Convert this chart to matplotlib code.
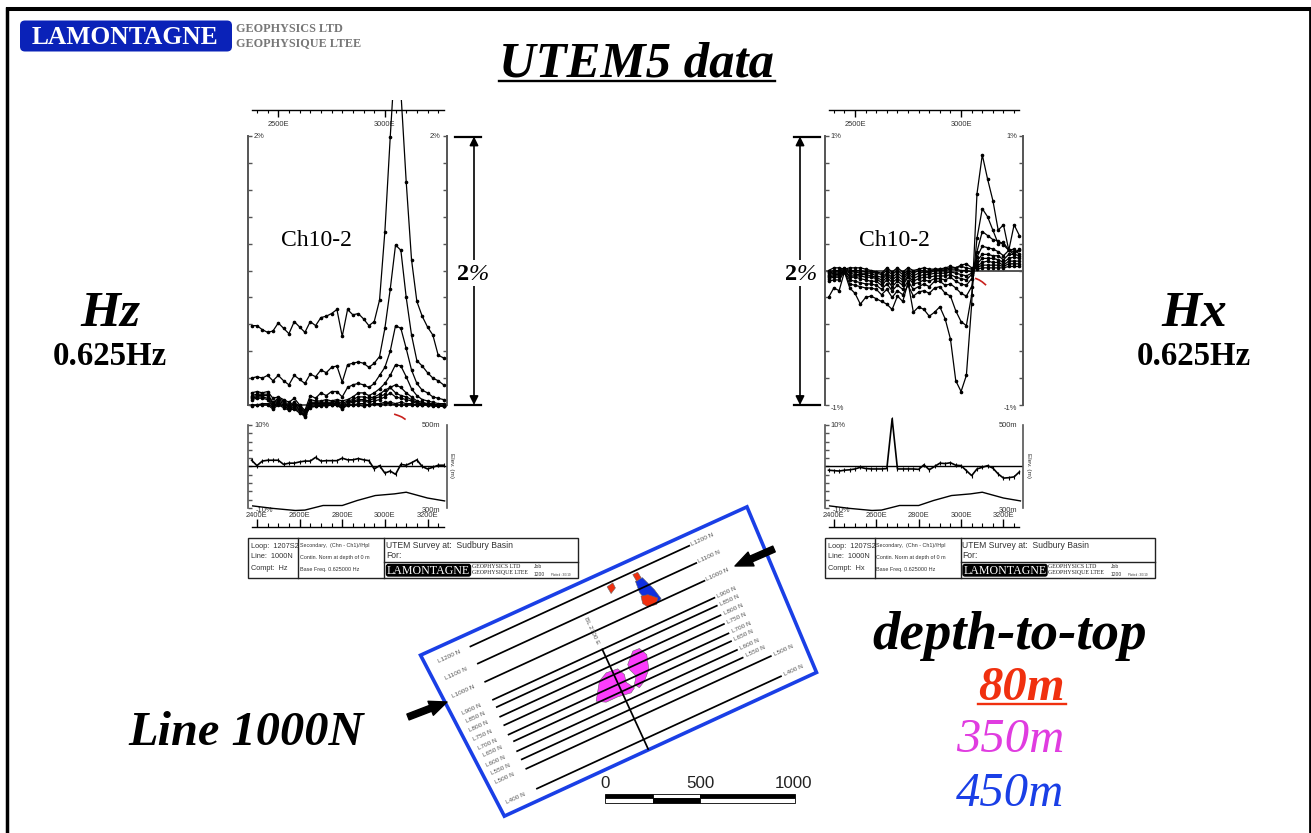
import numpy as np
import matplotlib
matplotlib.use('Agg')
import matplotlib.pyplot as plt
from matplotlib.patches import FancyBboxPatch, Polygon, Rectangle
from matplotlib.ticker import MultipleLocator

W, H = 1311, 833
SANS = 'Liberation Sans'
SERIF = 'Liberation Serif'

# stations along the line (m east)
stations = list(range(2375, 3300, 25))

# Hz, Ch10 down to Ch2 (%)
hz_channels = [
    [.59, .59, .56, .54, .55, .61, .57, .53, .62, .58, .54, .62, .59, .65, .66, .68, .71, .51, .71, .67, .68, .64, .59, .62, .78, 1.29, 1.99, 2.64, 2.33, 1.66, 1.08, .77, .66, .58, .52, .37, .35],
    [.20, .21, .20, .22, .18, .22, .18, .15, .22, .19, .16, .23, .21, .26, .24, .28, .29, .17, .30, .31, .32, .31, .28, .31, .36, .57, .86, 1.19, 1.15, .80, .52, .33, .29, .24, .20, .18, .15],
    [.09, .10, .09, .10, .05, .06, .04, .02, .05, .00, -.04, .07, .05, .09, .07, .10, .10, .06, .13, .15, .16, .15, .13, .16, .22, .28, .40, .59, .57, .42, .26, .16, .11, .09, .06, .05, .04],
    [.07, .08, .08, .08, .02, .05, .03, .00, .02, -.01, -.05, .04, .03, .03, .04, .03, .04, .03, .04, .06, .09, .09, .07, .09, .12, .16, .22, .30, .29, .21, .12, .07, .04, .03, .02, .01, .01],
    [.06, .07, .07, .07, .01, .04, .02, -.01, .01, -.02, -.06, .02, .02, .02, .02, .02, .03, .01, .03, .04, .06, .06, .05, .06, .08, .11, .13, .15, .13, .09, .06, .03, .02, .01, .01, .00, .00],
    [.05, .06, .06, .05, .00, .03, .01, -.02, .00, -.03, -.07, .01, .01, .01, .01, .01, .02, .00, .02, .03, .04, .04, .03, .05, .06, .08, .13, .09, .07, .06, .04, .02, .01, .01, .00, .00, -.01],
    [.04, .05, .05, .04, -.01, .02, .00, -.03, -.01, -.04, -.08, .00, .00, .00, .01, .01, .01, -.01, .01, .02, .03, .03, .02, .03, .04, .06, .09, .06, .05, .04, .03, .01, .01, .00, .00, .00, -.01],
    [.00, .00, .01, .01, -.02, .01, -.01, -.03, -.02, -.05, -.09, -.01, -.01, -.01, .00, .00, .00, -.02, .00, .00, .01, .01, .00, .01, .01, .02, .02, .01, .02, .01, .01, .00, .00, .00, .00, .00, -.01],
    [-.01, .00, .00, .00, -.03, .00, -.02, -.04, -.03, -.06, -.07, -.02, -.01, .00, -.01, .00, .00, -.03, .00, .00, .00, -.01, .00, .01, .00, .01, .01, .00, .00, .00, .00, .00, .00, .00, -.01, -.01, -.01],
]

# Hx, Ch10 down to Ch2 (%)
hx_channels = [
    [-.20, -.13, -.15, -.01, -.13, -.17, -.25, -.20, -.19, -.21, -.23, -.25, -.29, -.19, -.23, -.09, -.31, -.27, -.29, -.34, -.31, -.27, -.36, -.51, -.82, -.90, -.78, -.25, .57, .86, .68, .52, .30, .34, .15, .34, .26],
    [-.08, -.07, -.07, -.01, -.10, -.11, -.12, -.13, -.13, -.14, -.18, -.14, -.20, -.15, -.18, -.11, -.19, -.16, -.15, -.17, -.13, -.12, -.17, -.19, -.30, -.38, -.41, -.18, .24, .46, .40, .30, .20, .21, .15, .12, .16],
    [-.06, -.05, -.05, -.01, -.07, -.08, -.09, -.10, -.10, -.11, -.14, -.10, -.15, -.11, -.14, -.08, -.14, -.12, -.10, -.12, -.08, -.08, -.11, -.10, -.13, -.17, -.19, -.12, .14, .29, .26, .23, .22, .19, .15, .14, .15],
    [-.05, -.04, -.04, .00, -.05, -.05, -.06, -.07, -.08, -.08, -.11, -.07, -.12, -.08, -.11, -.05, -.10, -.09, -.07, -.08, -.06, -.06, -.07, -.05, -.08, -.10, -.11, -.06, .10, .18, .17, .16, .14, .11, .15, .16, .12],
    [-.04, -.03, -.03, .00, -.04, -.04, -.04, -.05, -.05, -.06, -.09, -.05, -.09, -.06, -.09, -.04, -.08, -.06, -.05, -.05, -.04, -.04, -.04, -.03, -.05, -.06, -.07, -.03, .07, .12, .12, .11, .11, .08, .12, .12, .11],
    [-.03, -.02, -.02, .00, -.02, -.03, -.03, -.03, -.04, -.05, -.07, -.03, -.07, -.04, -.07, -.02, -.06, -.04, -.03, -.03, -.02, -.02, -.02, -.01, -.02, -.03, -.04, -.02, .05, .09, .09, .09, .08, .06, .09, .10, .09],
    [-.02, -.01, -.01, .01, -.01, -.01, -.02, -.02, -.02, -.04, -.05, -.02, -.05, -.02, -.05, -.01, -.04, -.02, -.01, -.02, .00, .00, .00, .01, .01, .00, .00, -.01, .03, .06, .07, .06, .06, .04, .07, .07, .07],
    [-.01, .00, .00, .02, .00, .00, .00, -.01, -.01, -.02, -.03, .00, -.03, .00, -.03, .00, -.02, .00, .00, -.01, .01, .01, .01, .02, .02, .03, .02, .01, .02, .04, .04, .04, .04, .03, .05, .05, .05],
    [.00, .02, .02, .01, .02, .02, .02, .01, .00, -.01, -.02, .02, -.01, .02, -.01, .02, .00, .01, .02, .01, .01, .01, .02, .03, .02, .04, .05, .02, .01, .02, .02, .02, .02, .02, .03, .03, .03],
]

# channel 1 profiles (%)
hz_ch1 = [1.5, .2, 1.3, 1.5, 1.5, 1.5, .5, .8, .8, 1.1, 1.3, 1.3, 2.2, 1.3, 1.4, 1.4, 1.4, 2.0, 1.6, 1.6, 1.9, 1.6, 1.4, -.6, .2, -1.6, -1.1, -1.9, .5, .3, .9, 1.6, 0, -.6, -.2, .3, .3]
hx_ch1 = [-.9, -1.0, -1.1, -.9, -.8, -.6, -.2, -.5, -.6, -.6, -.6, -.5, 11.5, -.6, -.6, -.6, -.6, -.7, .4, -.8, 0, .8, .7, .9, .3, .2, -1.0, -2.2, -.6, -.2, .2, -.4, -1.8, -2.8, -2.7, -2.5, -1.3]

# elevation along the line
elev_x = [2380, 2475, 2580, 2625, 2710, 2800, 2870, 2955, 3045, 3100, 3200, 3280]
elev_m = [305, 299, 294, 295, 306, 306, 318, 330, 334, 338, 324, 317]

# plate section traces (red)
hz_red_x = [3047, 3065, 3080, 3094]
hz_red_y = [-.07, -.08, -.09, -.105]
hx_red_x = [3070, 3085, 3100, 3115]
hx_red_y = [-.06, -.07, -.085, -.105]

# survey lines on the map
line_names = ['L1200 N', 'L1100 N', 'L1000 N', 'L900 N', 'L850 N', 'L800 N', 'L750 N', 'L700 N', 'L650 N', 'L600 N', 'L550 N', 'L500 N', 'L400 N']
line_north = [1195, 1100, 1000, 900, 858, 806, 758, 705, 663, 610, 562, 509, 394]
line_west = [-605, -607, -612, -614, -612, -617, -616, -616, -605, -612, -608, -607, -600]
line_east = [624, 620, 620, 630, 624, 621, 618, 619, 614, 623, 633, 767, 771]
baseline_north = [900, 340]

# map frame and conductive bodies (E, N relative to baseline)
frame_e = [-855, 975, 944, -810]
frame_n = [1261, 1252, 336, 336]
pink1_e = [-139, -81, -32, 30, 49, 40, 67, 41, -29, -95]
pink1_n = [673, 759, 783, 777, 736, 697, 653, 637, 647, 647]
pink2_e = [86, 138, 174, 195, 173, 128, 90, 74, 100, 83]
pink2_n = [776, 827, 825, 781, 708, 663, 643, 669, 704, 749]
blue_e = [299, 339, 369, 381, 345, 300, 294]
blue_n = [1145, 1147, 1066, 1010, 993, 1061, 1084]
red1_e = [156, 191, 192, 160]
red1_n = [1180, 1186, 1157, 1140]
red2_e = [301, 329, 333, 305]
red2_n = [1182, 1182, 1149, 1142]
red3_e = [293, 328, 367, 345, 302, 285]
red3_n = [1064, 1057, 1020, 993, 1000, 1026]

PINK = '#fb3dfb'
BLUE = '#1a3fe6'
RED = '#f0300f'
GREY = '#555555'


def px_axes(x0, y0, x1, y1, **kw):
    return fig.add_axes([x0 / W, 1 - y1 / H, (x1 - x0) / W, (y1 - y0) / H], **kw)


def map_xy(e, n):
    # survey grid to page, grid is turned about 25 degrees
    s = 0.196
    e = np.asarray(e, dtype=float)
    n = np.asarray(n, dtype=float)
    x = 594.1 + s * (e * .908 + (1000 - n) * .418)
    y = 631.6 + s * (-e * .418 + (1000 - n) * .908)
    return x, y


def main_panel(x0, x1, xlim, ylim, ticks, channels, red_x, red_y):
    ax = px_axes(x0, 100, x1, 425)
    ax.patch.set_alpha(0)
    for vals in channels:
        ax.plot(stations, vals, color='k', lw=.9, marker='o', ms=1.6, zorder=3)
    ax.plot(red_x, red_y, color='#c8201c', lw=1.2, zorder=3)
    ax.set_xlim(xlim)
    ax.set_ylim(ylim)
    ax.set_yticks(ticks)
    ax.set_yticklabels([])
    ax.tick_params(axis='y', left=True, right=True, direction='in', length=3, width=1, color=GREY)
    ax.spines['left'].set_bounds(ticks[0], ticks[-1])
    ax.spines['right'].set_bounds(ticks[0], ticks[-1])
    ax.spines['bottom'].set_position(('data', 0))
    ax.spines['top'].set_position(('axes', 1 - 10 / 325))
    ax.spines['top'].set_bounds(stations[0], stations[-1])
    for side in ['left', 'right', 'bottom']:
        ax.spines[side].set_color(GREY)
        ax.spines[side].set_linewidth(1.4)
    ax.spines['top'].set_linewidth(1)
    ax.xaxis.set_major_locator(MultipleLocator(500))
    ax.xaxis.set_minor_locator(MultipleLocator(50))
    ax.tick_params(axis='x', which='both', top=True, bottom=False, labeltop=True, labelbottom=False, direction='in')
    ax.tick_params(axis='x', which='major', length=5, width=1, pad=-13, labelsize=5.4)
    ax.tick_params(axis='x', which='minor', length=2.5, width=.8)
    ax.set_xticks([2500, 3000])
    ax.set_xticklabels(['2500E', '3000E'], family=SANS, color='#333333')
    return ax


def profile_panel(x0, x1, xlim, ch1):
    ax = px_axes(x0, 415, x1, 527)
    ax.patch.set_alpha(0)
    ax.plot(stations, ch1, color='k', lw=1.2, marker='|', ms=3.5, mew=.8, zorder=3)
    ax.axhline(0, color='k', lw=1)
    ax.set_xlim(xlim)
    ax.set_ylim(-14.58, 12.4)
    ax.set_yticks(np.arange(-10, 11, 2))
    ax.set_yticklabels([])
    ax.tick_params(axis='y', left=True, right=True, direction='in', length=3, width=1, color=GREY)
    ax.spines['left'].set_bounds(-10, 10)
    ax.spines['right'].set_bounds(-10, 10)
    ax.spines['top'].set_visible(False)
    ax.spines['bottom'].set_bounds(stations[0], stations[-1])
    ax.spines['left'].set_color(GREY)
    ax.spines['right'].set_color(GREY)
    ax.spines['left'].set_linewidth(1.2)
    ax.spines['right'].set_linewidth(1.2)
    ax.spines['bottom'].set_linewidth(1)
    ax.xaxis.set_minor_locator(MultipleLocator(50))
    ax.tick_params(axis='x', which='major', direction='in', length=6, width=1, pad=-11, labelsize=5.4)
    ax.tick_params(axis='x', which='minor', direction='in', length=3, width=.8)
    ax.set_xticks([2400, 2600, 2800, 3000, 3200])
    ax.set_xticklabels(['2400E', '2600E', '2800E', '3000E', '3200E'], family=SANS, color='#333333')
    # elevation shares the box, 300-500 m over -10 to 10 %
    tw = ax.twinx()
    tw.plot(elev_x, elev_m, color='k', lw=1)
    tw.set_ylim(254.2, 524)
    tw.set_yticks([])
    for sp in tw.spines.values():
        sp.set_visible(False)
    return ax


def small(x, y, s, ha='left', size=5.4, **kw):
    page.text(x, y, s, ha=ha, va='center', fontsize=size, family=SANS, color='#333333', **kw)


def labels_for(x0, x1, top, bottom):
    small(x0 + 6, 136, top)
    small(x1 - 6, 136, top, ha='right')
    if bottom:
        small(x0 + 6, 408, bottom)
        small(x1 - 6, 408, bottom, ha='right')
    small(x0 + 6, 425, '10%')
    small(x1 - 6, 425, '500m', ha='right')
    small(x0 + 8, 510, '-10%')
    small(x1 - 6, 510, '300m', ha='right')
    small(x1 + 5, 465, 'Elev. (m)', ha='center', size=4.6, rotation=-90)


def info_box(x0, compt):
    x3 = x0 + 330
    page.add_patch(Rectangle((x0, 538), 330, 39.5, fc='white', ec='#222222', lw=1))
    page.plot([x0 + 50, x0 + 50], [538, 577.5], color='#222222', lw=1)
    page.plot([x0 + 136, x0 + 136], [538, 577.5], color='#222222', lw=1)
    page.plot([x0 + 136, x3], [561.5, 561.5], color='#222222', lw=1)
    for y, s in zip([546, 557, 569], ['Loop:  1207S2', 'Line:  1000N', 'Compt:  ' + compt]):
        small(x0 + 3, y, s, size=5.3)
    for y, s in zip([546, 558, 569], ['Secondary,  (Chn - Ch1)//Hpl', 'Contin. Norm at depth of 0 m', 'Base Freq. 0.625000 Hz']):
        small(x0 + 52, y, s, size=3.9)
    small(x0 + 138, 545, 'UTEM Survey at:  Sudbury Basin', size=6.2)
    small(x0 + 138, 556, 'For:', size=6.2)
    page.add_patch(FancyBboxPatch((x0 + 139, 565), 83, 10.5, boxstyle='round,pad=0.5,rounding_size=2', fc='k', ec='k'))
    page.text(x0 + 180.5, 571, 'LAMONTAGNE', color='white', family=SERIF, fontsize=8.6, ha='center', va='center')
    page.text(x0 + 224, 566, 'GEOPHYSICS LTD', family=SERIF, fontsize=4.2, va='center', color='#222222')
    page.text(x0 + 224, 572.5, 'GEOPHYSIQUE LTEE', family=SERIF, fontsize=4.2, va='center', color='#222222')
    small(x0 + 286, 567, 'Job', size=3.6)
    small(x0 + 286, 574, '1200', size=3.6)
    small(x0 + 303, 574.5, 'Plotted : 3/3/10', size=2.1)


def span_arrow(x, x0, x1, tx):
    page.plot([x0, x1], [136.5, 136.5], color='k', lw=1.6)
    page.plot([x0, x1], [405, 405], color='k', lw=1.6)
    page.annotate('', xy=(x, 136.5), xytext=(x, 405),
                  arrowprops=dict(arrowstyle='<|-|>', color='k', lw=1.2, mutation_scale=13, shrinkA=0, shrinkB=0))
    page.add_patch(Rectangle((tx - 3, 260), 38, 26, fc='white', ec='none', zorder=3))
    page.text(tx, 275, '2', family=SERIF, weight='bold', fontsize=17.5, ha='left', va='center', zorder=4)
    page.text(tx + 12, 275, '%', family=SERIF, style='italic', fontsize=17.5, ha='left', va='center', zorder=4)


fig = plt.figure(figsize=(W / 100, H / 100), dpi=100, facecolor='white')
plt.rcParams['font.family'] = SANS

page = fig.add_axes([0, 0, 1, 1])
page.set_xlim(0, W)
page.set_ylim(H, 0)
page.axis('off')

# outer border, runs off the bottom of the slide
page.plot([7.3, 7.3], [H, 7], color='k', lw=2.5, solid_capstyle='butt')
page.plot([5.5, W], [8.7, 8.7], color='k', lw=2.9, solid_capstyle='butt')
page.plot([1310.3, 1310.3], [7, H], color='k', lw=2, solid_capstyle='butt')

# logo
page.add_patch(FancyBboxPatch((22, 22.5), 208, 27, boxstyle='round,pad=2,rounding_size=5', fc='#0a22b8', ec='none'))
page.text(124.5, 37.5, 'LAMONTAGNE', color='white', family=SERIF, weight='bold', fontsize=18.4, ha='center', va='center')
page.text(236, 29, 'GEOPHYSICS LTD', color='#777777', family=SERIF, weight='bold', fontsize=8.7, va='center')
page.text(236, 43, 'GEOPHYSIQUE LTEE', color='#777777', family=SERIF, weight='bold', fontsize=8.7, va='center')

# title and side labels
page.text(636.5, 64, 'UTEM5 data', family=SERIF, weight='bold', style='italic', fontsize=36.5, ha='center', va='center')
page.plot([499, 775], [81, 81], color='k', lw=1.7)
for cx, s in [(110, 'Hz'), (1194, 'Hx')]:
    page.text(cx, 314, s, family=SERIF, weight='bold', style='italic', fontsize=37, ha='center', va='center')
    page.text(cx, 356, '0.625Hz', family=SERIF, weight='bold', fontsize=23.7, ha='center', va='center')
page.text(246, 733, 'Line 1000N', family=SERIF, weight='bold', style='italic', fontsize=34.8, ha='center', va='center')
page.text(1010, 636, 'depth-to-top', family=SERIF, weight='bold', style='italic', fontsize=39.5, ha='center', va='center')
page.text(1021, 688, '80m', color=RED, family=SERIF, weight='bold', style='italic', fontsize=35, ha='center', va='center')
page.plot([978, 1066], [704, 704], color=RED, lw=1.7)
page.text(1010, 740, '350m', color='#e03ce0', family=SERIF, style='italic', fontsize=35, ha='center', va='center')
page.text(1010, 794, '450m', color=BLUE, family=SERIF, style='italic', fontsize=35, ha='center', va='center')

# data panels
main_panel(248, 446.5, (2358, 3289), (-.149, 2.268), list(np.arange(0, 2.01, .2)), hz_channels, hz_red_x, hz_red_y)
main_panel(824.5, 1023, (2356, 3292), (-1.149, 1.268), list(np.arange(-1, 1.01, .2)), hx_channels, hx_red_x, hx_red_y)
profile_panel(248, 446.5, (2358, 3289), hz_ch1)
profile_panel(824.5, 1023, (2356, 3292), hx_ch1)

labels_for(248, 446.5, '2%', None)
labels_for(824.5, 1023, '1%', '-1%')
page.text(316.5, 240, 'Ch10-2', family=SERIF, fontsize=17, ha='center', va='center')
page.text(894.5, 240, 'Ch10-2', family=SERIF, fontsize=17, ha='center', va='center')
span_arrow(474, 455, 481, 457)
span_arrow(800, 794, 820, 785)
info_box(248, 'Hz')
info_box(824.5, 'Hx')

# map
fx, fy = map_xy(frame_e, frame_n)
page.add_patch(Polygon(np.column_stack([fx, fy]), closed=True, fc='white', ec='#1a3fe6', lw=2.6, joinstyle='miter', zorder=1))
for es, ns, col in [(pink1_e, pink1_n, PINK), (pink2_e, pink2_n, PINK), (blue_e, blue_n, '#1030e0'),
                    (red1_e, red1_n, RED), (red2_e, red2_n, RED), (red3_e, red3_n, RED)]:
    bx, by = map_xy(es, ns)
    page.add_patch(Polygon(np.column_stack([bx, by]), closed=True, fc=col, ec='#666666', lw=.4, zorder=1.5))
for name, n, w, e in zip(line_names, line_north, line_west, line_east):
    lx, ly = map_xy([w, e], [n, n])
    page.plot(lx, ly, color='k', lw=1.25, zorder=2)
    for pos in (w - 120, e + 72):
        tx, ty = map_xy(pos, n)
        page.text(tx, ty, name, fontsize=4.6, color='#555555', rotation=24.7, rotation_mode='anchor', ha='center', va='center', zorder=2)
bx, by = map_xy([0, 0], baseline_north)
page.plot(bx, by, color='k', lw=1.25, zorder=2)
page.text(591.5, 631, 'BL 2700 E', fontsize=4.6, color='#555555', rotation=-65, rotation_mode='anchor', ha='center', va='center', zorder=2)

for tail, tip in [((774, 549), (735, 566)), ((408, 717), (447, 702))]:
    page.annotate('', xy=tip, xytext=tail, zorder=4,
                  arrowprops=dict(arrowstyle='simple,head_length=.7,head_width=.6,tail_width=.25', color='k', mutation_scale=18, shrinkA=0, shrinkB=0))

# scale bar
for x0, x1, top_col, low_col in [(605, 652.5, 'k', 'white'), (652.5, 700, 'white', 'k'), (700, 795, 'k', 'white')]:
    page.add_patch(Rectangle((x0, 793.5), x1 - x0, 4.5, fc=top_col, ec='k', lw=.6, zorder=2))
    page.add_patch(Rectangle((x0, 798), x1 - x0, 4.5, fc=low_col, ec='k', lw=.6, zorder=2))
for x, s in [(605, '0'), (700, '500'), (793, '1000')]:
    page.text(x, 783.5, s, family=SANS, fontsize=12.2, color='#222222', ha='center', va='center', zorder=2)

fig.savefig('out.png', dpi=100)
